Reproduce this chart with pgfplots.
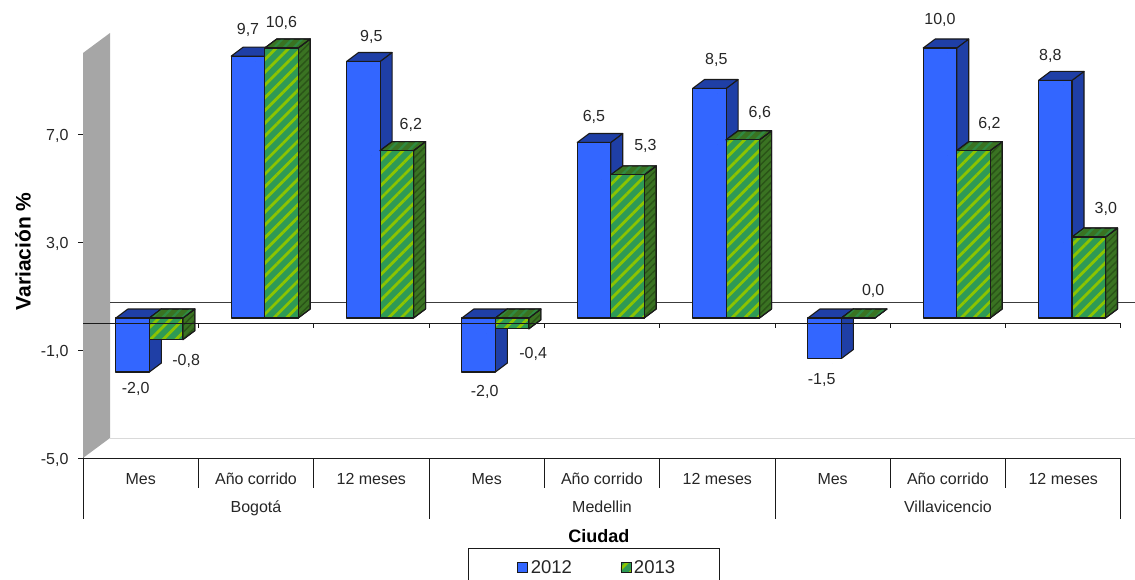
\documentclass[border=0pt]{standalone}
\usepackage{fontspec}
\setmainfont{Liberation Sans}
\usepackage{pgfplots}
\usepackage{pgfplotstable}
\pgfplotsset{compat=1.18}
\usetikzlibrary{patterns.meta,calc}

\definecolor{azul}{HTML}{3366FF}
\definecolor{azuloscuro}{HTML}{1F3FA6}
\definecolor{verde}{HTML}{2E9A55}
\definecolor{verdeclaro}{HTML}{8CC400}
\definecolor{verdemedio}{HTML}{2F8A42}
\definecolor{verdeoscuro}{HTML}{3A7322}
\definecolor{verdenegro}{HTML}{2A5418}
\definecolor{muro}{HTML}{A6A6A6}
\definecolor{borde}{HTML}{1A1A1A}
\definecolor{texto}{HTML}{262626}

% x: category centre, h: drawn height (axis stops at 10), v: printed value
% dx, dy: label offset from the end of the bar, in px
\pgfplotstableread{
x   h     v     dx   dy
0.5 -2.0  -2.0   3  -17
1.5  9.7   9.7   0   26
2.5  9.5   9.5   8   25
3.5 -2.0  -2.0   6  -20
4.5  6.5   6.5   0   26
5.5  8.5   8.5   7   29
6.5 -1.5  -1.5  -3  -22
7.5 10.0  10.0   0   28
8.5  8.8   8.8  -5   24
}\datauno
\pgfplotstableread{
x   h     v     dx   dy
0.5 -0.8  -0.8  20  -21
1.5 10.0  10.6   0   25
2.5  6.2   6.2  14   26
3.5 -0.4  -0.4  21  -25
4.5  5.3   5.3  18   29
5.5  6.6   6.6  17   27
6.5  0.0   0.0  15   27
7.5  6.2   6.2  16   27
8.5  3.0   3.0  17   28
}\datados

\tikzset{
  rayas/.style={preaction={fill=verde}, pattern={Lines[angle=45,distance=9pt,line width=2.8pt]}, pattern color=verdeclaro},
  rayaslado/.style={preaction={fill=verdeoscuro}, pattern={Lines[angle=45,distance=5pt,line width=1.4pt]}, pattern color=verdenegro},
  rayastecho/.style={preaction={fill=verdeoscuro}, pattern={Lines[angle=45,distance=7pt,line width=2.2pt]}, pattern color=verdemedio},
}

\pgfplotsset{
  % one box per data point: side, top, front. args: left, right, side, top, front
  barra/.style n args={5}{
    forget plot, only marks, mark=*, mark size=0pt,
    mark options={draw=none,fill=none},
    point meta=explicit,
    visualization depends on=y \as \barh,
    visualization depends on=\thisrow{dx} \as \labdx,
    visualization depends on=\thisrow{dy} \as \labdy,
    nodes near coords,
    scatter/@pre marker code/.code={
      \scope[x=1pt,y=1pt,draw=borde,line width=1.1pt,line join=round]
      \pgfmathsetmacro\yt{5+27*(max(\barh,0)-\barh)}
      \pgfmathsetmacro\yb{5+27*(min(\barh,0)-\barh)}
      \path[draw,#3] (#2,\yb) -- ++(12,9) -- (#2+12,\yt+9) -- (#2,\yt) -- cycle;
      \path[draw,#4] (#1,\yt) -- ++(12,9) -- (#2+12,\yt+9) -- (#2,\yt) -- cycle;
      \path[draw,#5] (#1,\yb) rectangle (#2,\yt);
      \endscope
    },
    every node near coord/.append style={
      anchor=center, text=texto, font=\fontsize{16}{18}\selectfont,
      xshift=(#1+#2)/2*1pt+\labdx pt, yshift=\labdy pt+5pt,
      /pgf/number format/.cd, fixed, fixed zerofill, precision=1, use comma, assume math mode=true,
    },
  },
}

\begin{document}
\begin{tikzpicture}
\path[use as bounding box] (0pt,0pt) rectangle (1135pt,579pt);
\begin{axis}[
  at={(83pt,121pt)}, anchor=south west,
  width=1038pt, height=405pt, scale only axis,
  xmin=0, xmax=9, ymin=-5, ymax=10,
  clip=false,
  axis x line*=bottom, axis y line*=left,
  axis line style={-, draw=borde, line width=0.9pt},
  xtick={0.5,...,8.5},
  xticklabels={Mes,Año corrido,12 meses,Mes,Año corrido,12 meses,Mes,Año corrido,12 meses},
  xtick style={draw=none},
  xticklabel style={anchor=base, yshift=-21pt, text=texto, font=\fontsize{16}{18}\selectfont},
  ytick={-5,-1,3,7},
  tick align=outside,
  major tick length=5pt,
  ytick style={draw=borde, line width=0.9pt},
  yticklabel style={text=texto, font=\fontsize{16}{18}\selectfont, xshift=-6pt, yshift=-1.5pt,
    /pgf/number format/.cd, fixed, fixed zerofill, precision=1, use comma, assume math mode=true},
  xlabel={Ciudad}, ylabel={Variación \%},
  every axis x label/.style={at={(axis description cs:0.497,-0.193)}, anchor=center, font=\bfseries\fontsize{18}{20}\selectfont, text=black},
  every axis y label/.style={at={(axis description cs:-0.0578,0.51)}, anchor=center, rotate=90, font=\bfseries\fontsize{21}{23}\selectfont, text=black},
  legend style={at={(axis description cs:0.4923,-0.2222)}, anchor=north, draw=borde, line width=0.9pt,
    inner xsep=42pt, inner ysep=10pt, font=\fontsize{18.5}{20}\selectfont, text=texto},
  legend columns=2,
  legend cell align=left,
  /tikz/every even column/.append style={column sep=40pt},
  after end axis/.code={
    % zero line and its ticks, in front of the bars
    \draw[borde, line width=0.9pt] (axis cs:0,0) -- (axis cs:9,0);
    \pgfplotsinvokeforeach{1,...,9}{\draw[borde, line width=0.9pt] (axis cs:##1,0) -- ($(axis cs:##1,0)+(0pt,-5pt)$);}
  },
]
% left wall and back lines
\fill[muro] (axis cs:0,-5) -- ($(axis cs:0,-5)+(27pt,20pt)$) -- ($(axis cs:0,10)+(27pt,20pt)$) -- (axis cs:0,10) -- cycle;
\draw[black!15, line width=1pt] ($(axis cs:0,-5)+(27pt,20pt)$) -- ($(axis cs:9,-5)+(14pt,20pt)$);
\draw[borde!85, line width=0.9pt] ($(axis cs:0,0)+(27pt,21pt)$) -- ($(axis cs:9,0)+(14pt,21pt)$);

\addplot[barra={-24.75}{8.75}{fill=azuloscuro}{fill=azuloscuro}{fill=azul}] table[x=x,y=h,meta=v] {\datauno};
\addplot[barra={8.75}{42.25}{rayaslado}{rayastecho}{rayas}] table[x=x,y=h,meta=v] {\datados};

% two level category axis
\pgfplotsinvokeforeach{1,2,4,5,7,8}{\draw[borde, line width=0.9pt] (axis cs:#1,-5) -- ($(axis cs:#1,-5)+(0pt,-30pt)$);}
\pgfplotsinvokeforeach{0,3,6,9}{\draw[borde, line width=0.9pt] (axis cs:#1,-5) -- ($(axis cs:#1,-5)+(0pt,-61pt)$);}
\node[anchor=base, text=texto, font=\fontsize{16}{18}\selectfont] at ($(axis cs:1.5,-5)+(0pt,-54pt)$) {Bogotá};
\node[anchor=base, text=texto, font=\fontsize{16}{18}\selectfont] at ($(axis cs:4.5,-5)+(0pt,-54pt)$) {Medellin};
\node[anchor=base, text=texto, font=\fontsize{16}{18}\selectfont] at ($(axis cs:7.5,-5)+(0pt,-54pt)$) {Villavicencio};

\addlegendimage{legend image code/.code={\path[draw=none] (0pt,0pt) -- (18pt,0pt); \draw[fill=azul, draw=borde, line width=0.8pt] (7pt,-5pt) rectangle (17pt,5pt);}}
\addlegendentry{2012}
\addlegendimage{legend image code/.code={\path[draw=none] (0pt,0pt) -- (18pt,0pt); \draw[rayas, draw=borde, line width=0.8pt] (7pt,-5pt) rectangle (17pt,5pt);}}
\addlegendentry{2013}
\end{axis}
\end{tikzpicture}
\end{document}
